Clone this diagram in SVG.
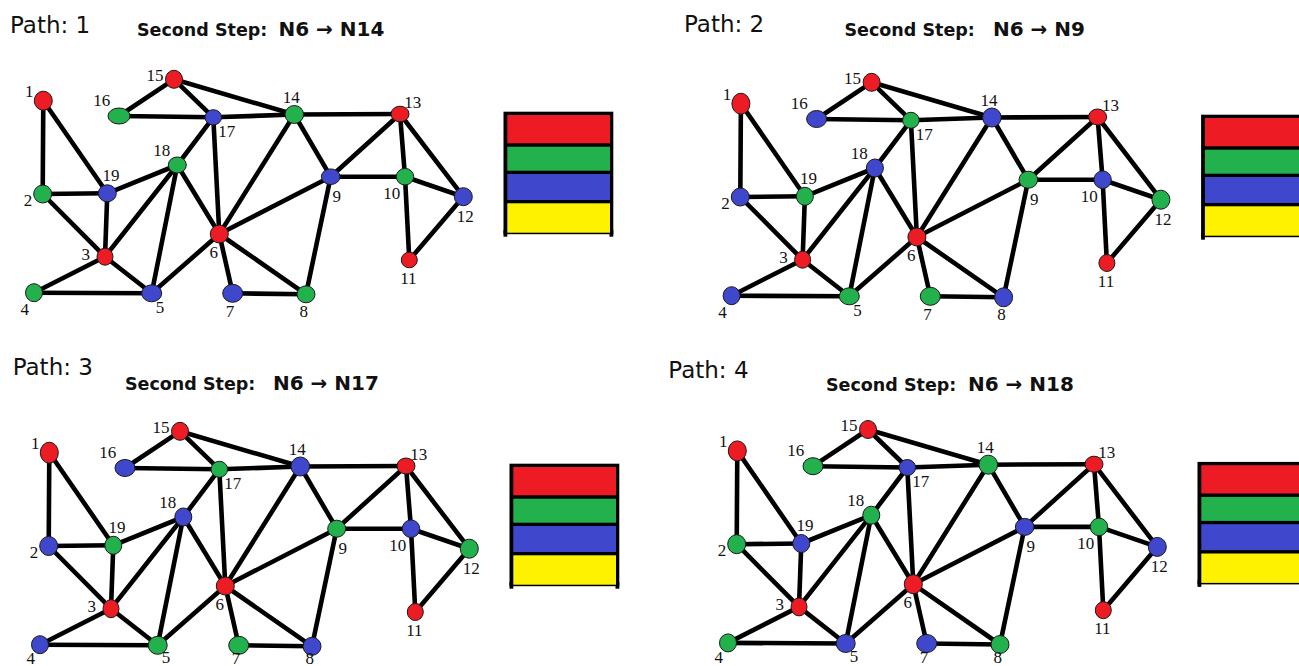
<svg xmlns="http://www.w3.org/2000/svg" width="1299" height="666" viewBox="0 0 1299 666">
  <style>
    .edge { stroke: #000; stroke-width: 4.6; stroke-linecap: round; fill: none; }
    .node { stroke: #1a1a1a; stroke-width: 1; }
    .red { fill: #ED1C24; }
    .grn { fill: #22B14C; }
    .blu { fill: #3F48CC; }
    .yel { fill: #FFF200; }
    .lbl { font-family: "Liberation Serif", "Times New Roman", serif; font-size: 17px; fill: #111; text-anchor: middle; }
    .path { font-family: "DejaVu Sans", Verdana, sans-serif; font-size: 23px; fill: #111; }
    .step { font-family: "DejaVu Sans", Verdana, sans-serif; font-weight: bold; font-size: 17.5px; fill: #111; }
    .move { font-family: "DejaVu Sans", Verdana, sans-serif; font-weight: bold; font-size: 20px; fill: #111; }
  </style>
  <defs>
    <!-- colour key shared by all four panels -->
    <g id="palette">
      <rect x="503.5" y="111.7" width="109.8" height="122.5" fill="#000"/>
      <rect x="503.5" y="230" width="3.8" height="6.7" fill="#000"/>
      <rect x="609.5" y="230" width="3.8" height="6.7" fill="#000"/>
      <rect x="507.3" y="115" width="102.7" height="28.3" class="red"/>
      <rect x="507.3" y="146.7" width="102.7" height="24" class="grn"/>
      <rect x="507.3" y="174" width="102.7" height="26" class="blu"/>
      <rect x="507.3" y="203.3" width="102.7" height="29.4" class="yel"/>
    </g>
  </defs>
  <rect width="1299" height="666" fill="#fff"/>

  <!-- titles -->
  <g id="titles">
    <text class="path" x="10" y="32.5">Path: 1</text>
    <text class="step" x="137" y="35.5">Second Step:</text>
    <text class="move" x="278.5" y="35.5">N6 → N14</text>

    <text class="path" x="684" y="32">Path: 2</text>
    <text class="step" x="844.5" y="35.5">Second Step:</text>
    <text class="move" x="993" y="35.5">N6 → N9</text>

    <text class="path" x="12.7" y="375">Path: 3</text>
    <text class="step" x="125" y="390">Second Step:</text>
    <text class="move" x="273" y="390">N6 → N17</text>

    <text class="path" x="668.3" y="378">Path: 4</text>
    <text class="step" x="826" y="390.5">Second Step:</text>
    <text class="move" x="968" y="390.5">N6 → N18</text>
  </g>

  <!-- ===== Path 1 ===== -->
  <g id="panel1">
    <use href="#palette"/>
    <g id="p1-connectors">
      <line class="edge" x1="43.3" y1="100.7" x2="42.7" y2="194"/>
      <line class="edge" x1="43.3" y1="100.7" x2="107.3" y2="193.3"/>
      <line class="edge" x1="42.7" y1="194" x2="107.3" y2="193.3"/>
      <line class="edge" x1="42.7" y1="194" x2="105" y2="256.7"/>
      <line class="edge" x1="107.3" y1="193.3" x2="105" y2="256.7"/>
      <line class="edge" x1="107.3" y1="193.3" x2="177.3" y2="165"/>
      <line class="edge" x1="105" y1="256.7" x2="34" y2="292.7"/>
      <line class="edge" x1="105" y1="256.7" x2="151.7" y2="293.3"/>
      <line class="edge" x1="105" y1="256.7" x2="177.3" y2="165"/>
      <line class="edge" x1="34" y1="292.7" x2="151.7" y2="293.3"/>
      <line class="edge" x1="151.7" y1="293.3" x2="177.3" y2="165"/>
      <line class="edge" x1="151.7" y1="293.3" x2="219.3" y2="234"/>
      <line class="edge" x1="177.3" y1="165" x2="219.3" y2="234"/>
      <line class="edge" x1="177.3" y1="165" x2="213.3" y2="117.3"/>
      <line class="edge" x1="174" y1="79.3" x2="119" y2="116"/>
      <line class="edge" x1="174" y1="79.3" x2="213.3" y2="117.3"/>
      <line class="edge" x1="174" y1="79.3" x2="294.3" y2="114.5"/>
      <line class="edge" x1="119" y1="116" x2="213.3" y2="117.3"/>
      <line class="edge" x1="213.3" y1="117.3" x2="294.3" y2="114.5"/>
      <line class="edge" x1="213.3" y1="117.3" x2="219.3" y2="234"/>
      <line class="edge" x1="294.3" y1="114.5" x2="400" y2="114"/>
      <line class="edge" x1="294.3" y1="114.5" x2="219.3" y2="234"/>
      <line class="edge" x1="294.3" y1="114.5" x2="330.7" y2="176.7"/>
      <line class="edge" x1="219.3" y1="234" x2="330.7" y2="176.7"/>
      <line class="edge" x1="219.3" y1="234" x2="232.7" y2="293.3"/>
      <line class="edge" x1="219.3" y1="234" x2="306" y2="294.3"/>
      <line class="edge" x1="232.7" y1="293.3" x2="306" y2="294.3"/>
      <line class="edge" x1="306" y1="294.3" x2="330.7" y2="176.7"/>
      <line class="edge" x1="330.7" y1="176.7" x2="400" y2="114"/>
      <line class="edge" x1="330.7" y1="176.7" x2="405" y2="176.7"/>
      <line class="edge" x1="400" y1="114" x2="405" y2="176.7"/>
      <line class="edge" x1="400" y1="114" x2="463.3" y2="196.7"/>
      <line class="edge" x1="405" y1="176.7" x2="463.3" y2="196.7"/>
      <line class="edge" x1="405" y1="176.7" x2="409.3" y2="260"/>
      <line class="edge" x1="409.3" y1="260" x2="463.3" y2="196.7"/>
    </g>
    <g id="p1-n1"><ellipse class="node red" cx="43.3" cy="100.7" rx="9" ry="9.5"/><text class="lbl" x="29.3" y="96.7">1</text></g>
    <g id="p1-n2"><ellipse class="node grn" cx="42.7" cy="194" rx="9" ry="9"/><text class="lbl" x="28" y="205.7">2</text></g>
    <g id="p1-n3"><ellipse class="node red" cx="105" cy="256.7" rx="8" ry="8.5"/><text class="lbl" x="85.8" y="260">3</text></g>
    <g id="p1-n4"><ellipse class="node grn" cx="34" cy="292.7" rx="8.5" ry="9"/><text class="lbl" x="24.8" y="315">4</text></g>
    <g id="p1-n5"><ellipse class="node blu" cx="151.7" cy="293.3" rx="10" ry="8.5"/><text class="lbl" x="160" y="312.7">5</text></g>
    <g id="p1-n6"><ellipse class="node red" cx="219.3" cy="234" rx="9" ry="9"/><text class="lbl" x="213.7" y="258.3">6</text></g>
    <g id="p1-n7"><ellipse class="node blu" cx="232.7" cy="293.3" rx="10" ry="9"/><text class="lbl" x="230" y="316.7">7</text></g>
    <g id="p1-n8"><ellipse class="node grn" cx="306" cy="294.3" rx="9" ry="8.5"/><text class="lbl" x="303.8" y="317.3">8</text></g>
    <g id="p1-n9"><ellipse class="node blu" cx="330.7" cy="176.7" rx="9.3" ry="7.8"/><text class="lbl" x="336.7" y="201.7">9</text></g>
    <g id="p1-n10"><ellipse class="node grn" cx="405" cy="176.7" rx="8.7" ry="8.3"/><text class="lbl" x="391.7" y="199.3">10</text></g>
    <g id="p1-n11"><ellipse class="node red" cx="409.3" cy="260" rx="8" ry="7.8"/><text class="lbl" x="408.4" y="284">11</text></g>
    <g id="p1-n12"><ellipse class="node blu" cx="463.3" cy="196.7" rx="9" ry="9"/><text class="lbl" x="465.3" y="222.3">12</text></g>
    <g id="p1-n13"><ellipse class="node red" cx="400" cy="114" rx="9" ry="7.8"/><text class="lbl" x="412.8" y="108.3">13</text></g>
    <g id="p1-n14"><ellipse class="node grn" cx="294.3" cy="114.5" rx="9.3" ry="9"/><text class="lbl" x="291.3" y="103.3">14</text></g>
    <g id="p1-n15"><ellipse class="node red" cx="174" cy="79.3" rx="8.5" ry="9"/><text class="lbl" x="155" y="80.6">15</text></g>
    <g id="p1-n16"><ellipse class="node grn" cx="119" cy="116" rx="11" ry="8"/><text class="lbl" x="101.7" y="106">16</text></g>
    <g id="p1-n17"><ellipse class="node blu" cx="213.3" cy="117.3" rx="8.3" ry="7.6"/><text class="lbl" x="226.7" y="137.3">17</text></g>
    <g id="p1-n18"><ellipse class="node grn" cx="177.3" cy="165" rx="9" ry="8"/><text class="lbl" x="161.7" y="155.7">18</text></g>
    <g id="p1-n19"><ellipse class="node blu" cx="107.3" cy="193.3" rx="9" ry="8.5"/><text class="lbl" x="111" y="180.7">19</text></g>
  </g>

  <!-- ===== Path 2 ===== -->
  <g id="panel2" transform="translate(697.6,3)">
    <use href="#palette"/>
    <g id="p2-connectors">
      <line class="edge" x1="43.3" y1="100.7" x2="42.7" y2="194"/>
      <line class="edge" x1="43.3" y1="100.7" x2="107.3" y2="193.3"/>
      <line class="edge" x1="42.7" y1="194" x2="107.3" y2="193.3"/>
      <line class="edge" x1="42.7" y1="194" x2="105" y2="256.7"/>
      <line class="edge" x1="107.3" y1="193.3" x2="105" y2="256.7"/>
      <line class="edge" x1="107.3" y1="193.3" x2="177.3" y2="165"/>
      <line class="edge" x1="105" y1="256.7" x2="34" y2="292.7"/>
      <line class="edge" x1="105" y1="256.7" x2="151.7" y2="293.3"/>
      <line class="edge" x1="105" y1="256.7" x2="177.3" y2="165"/>
      <line class="edge" x1="34" y1="292.7" x2="151.7" y2="293.3"/>
      <line class="edge" x1="151.7" y1="293.3" x2="177.3" y2="165"/>
      <line class="edge" x1="151.7" y1="293.3" x2="219.3" y2="234"/>
      <line class="edge" x1="177.3" y1="165" x2="219.3" y2="234"/>
      <line class="edge" x1="177.3" y1="165" x2="213.3" y2="117.3"/>
      <line class="edge" x1="174" y1="79.3" x2="119" y2="116"/>
      <line class="edge" x1="174" y1="79.3" x2="213.3" y2="117.3"/>
      <line class="edge" x1="174" y1="79.3" x2="294.3" y2="114.5"/>
      <line class="edge" x1="119" y1="116" x2="213.3" y2="117.3"/>
      <line class="edge" x1="213.3" y1="117.3" x2="294.3" y2="114.5"/>
      <line class="edge" x1="213.3" y1="117.3" x2="219.3" y2="234"/>
      <line class="edge" x1="294.3" y1="114.5" x2="400" y2="114"/>
      <line class="edge" x1="294.3" y1="114.5" x2="219.3" y2="234"/>
      <line class="edge" x1="294.3" y1="114.5" x2="330.7" y2="176.7"/>
      <line class="edge" x1="219.3" y1="234" x2="330.7" y2="176.7"/>
      <line class="edge" x1="219.3" y1="234" x2="232.7" y2="293.3"/>
      <line class="edge" x1="219.3" y1="234" x2="306" y2="294.3"/>
      <line class="edge" x1="232.7" y1="293.3" x2="306" y2="294.3"/>
      <line class="edge" x1="306" y1="294.3" x2="330.7" y2="176.7"/>
      <line class="edge" x1="330.7" y1="176.7" x2="400" y2="114"/>
      <line class="edge" x1="330.7" y1="176.7" x2="405" y2="176.7"/>
      <line class="edge" x1="400" y1="114" x2="405" y2="176.7"/>
      <line class="edge" x1="400" y1="114" x2="463.3" y2="196.7"/>
      <line class="edge" x1="405" y1="176.7" x2="463.3" y2="196.7"/>
      <line class="edge" x1="405" y1="176.7" x2="409.3" y2="260"/>
      <line class="edge" x1="409.3" y1="260" x2="463.3" y2="196.7"/>
    </g>
    <g id="p2-n1"><ellipse class="node red" cx="43.3" cy="100.7" rx="9" ry="10.5"/><text class="lbl" x="29.3" y="96.7">1</text></g>
    <g id="p2-n2"><ellipse class="node blu" cx="42.7" cy="194" rx="9" ry="9"/><text class="lbl" x="28" y="205.7">2</text></g>
    <g id="p2-n3"><ellipse class="node red" cx="105" cy="256.7" rx="8" ry="8.5"/><text class="lbl" x="85.8" y="260">3</text></g>
    <g id="p2-n4"><ellipse class="node blu" cx="34" cy="292.7" rx="8.5" ry="9"/><text class="lbl" x="24.8" y="315">4</text></g>
    <g id="p2-n5"><ellipse class="node grn" cx="151.7" cy="293.3" rx="10" ry="8.5"/><text class="lbl" x="160" y="312.7">5</text></g>
    <g id="p2-n6"><ellipse class="node red" cx="219.3" cy="234" rx="9" ry="9"/><text class="lbl" x="213.7" y="258.3">6</text></g>
    <g id="p2-n7"><ellipse class="node grn" cx="232.7" cy="293.3" rx="10" ry="9"/><text class="lbl" x="230" y="316.7">7</text></g>
    <g id="p2-n8"><ellipse class="node blu" cx="306" cy="294.3" rx="9" ry="9.5"/><text class="lbl" x="303.8" y="317.3">8</text></g>
    <g id="p2-n9"><ellipse class="node grn" cx="330.7" cy="176.7" rx="9.3" ry="8.5"/><text class="lbl" x="336.7" y="201.7">9</text></g>
    <g id="p2-n10"><ellipse class="node blu" cx="405" cy="176.7" rx="8.7" ry="8.8"/><text class="lbl" x="391.7" y="199.3">10</text></g>
    <g id="p2-n11"><ellipse class="node red" cx="409.3" cy="260" rx="8" ry="8.5"/><text class="lbl" x="408.4" y="284">11</text></g>
    <g id="p2-n12"><ellipse class="node grn" cx="463.3" cy="196.7" rx="9" ry="9.5"/><text class="lbl" x="465.3" y="222.3">12</text></g>
    <g id="p2-n13"><ellipse class="node red" cx="400" cy="114" rx="9" ry="8"/><text class="lbl" x="412.8" y="108.3">13</text></g>
    <g id="p2-n14"><ellipse class="node blu" cx="294.3" cy="114.5" rx="9.3" ry="9.5"/><text class="lbl" x="291.3" y="103.3">14</text></g>
    <g id="p2-n15"><ellipse class="node red" cx="174" cy="79.3" rx="8.5" ry="9"/><text class="lbl" x="155" y="80.6">15</text></g>
    <g id="p2-n16"><ellipse class="node blu" cx="119" cy="116" rx="10" ry="8.5"/><text class="lbl" x="101.7" y="106">16</text></g>
    <g id="p2-n17"><ellipse class="node grn" cx="213.3" cy="117.3" rx="8.3" ry="8"/><text class="lbl" x="226.7" y="137.3">17</text></g>
    <g id="p2-n18"><ellipse class="node blu" cx="177.3" cy="165" rx="8.5" ry="9"/><text class="lbl" x="161.7" y="155.7">18</text></g>
    <g id="p2-n19"><ellipse class="node grn" cx="107.3" cy="193.3" rx="8.5" ry="9"/><text class="lbl" x="111" y="180.7">19</text></g>
  </g>

  <!-- ===== Path 3 ===== -->
  <g id="panel3" transform="translate(6,352)">
    <use href="#palette"/>
    <g id="p3-connectors">
      <line class="edge" x1="43.3" y1="100.7" x2="42.7" y2="194"/>
      <line class="edge" x1="43.3" y1="100.7" x2="107.3" y2="193.3"/>
      <line class="edge" x1="42.7" y1="194" x2="107.3" y2="193.3"/>
      <line class="edge" x1="42.7" y1="194" x2="105" y2="256.7"/>
      <line class="edge" x1="107.3" y1="193.3" x2="105" y2="256.7"/>
      <line class="edge" x1="107.3" y1="193.3" x2="177.3" y2="165"/>
      <line class="edge" x1="105" y1="256.7" x2="34" y2="292.7"/>
      <line class="edge" x1="105" y1="256.7" x2="151.7" y2="293.3"/>
      <line class="edge" x1="105" y1="256.7" x2="177.3" y2="165"/>
      <line class="edge" x1="34" y1="292.7" x2="151.7" y2="293.3"/>
      <line class="edge" x1="151.7" y1="293.3" x2="177.3" y2="165"/>
      <line class="edge" x1="151.7" y1="293.3" x2="219.3" y2="234"/>
      <line class="edge" x1="177.3" y1="165" x2="219.3" y2="234"/>
      <line class="edge" x1="177.3" y1="165" x2="213.3" y2="117.3"/>
      <line class="edge" x1="174" y1="79.3" x2="119" y2="116"/>
      <line class="edge" x1="174" y1="79.3" x2="213.3" y2="117.3"/>
      <line class="edge" x1="174" y1="79.3" x2="294.3" y2="114.5"/>
      <line class="edge" x1="119" y1="116" x2="213.3" y2="117.3"/>
      <line class="edge" x1="213.3" y1="117.3" x2="294.3" y2="114.5"/>
      <line class="edge" x1="213.3" y1="117.3" x2="219.3" y2="234"/>
      <line class="edge" x1="294.3" y1="114.5" x2="400" y2="114"/>
      <line class="edge" x1="294.3" y1="114.5" x2="219.3" y2="234"/>
      <line class="edge" x1="294.3" y1="114.5" x2="330.7" y2="176.7"/>
      <line class="edge" x1="219.3" y1="234" x2="330.7" y2="176.7"/>
      <line class="edge" x1="219.3" y1="234" x2="232.7" y2="293.3"/>
      <line class="edge" x1="219.3" y1="234" x2="306" y2="294.3"/>
      <line class="edge" x1="232.7" y1="293.3" x2="306" y2="294.3"/>
      <line class="edge" x1="306" y1="294.3" x2="330.7" y2="176.7"/>
      <line class="edge" x1="330.7" y1="176.7" x2="400" y2="114"/>
      <line class="edge" x1="330.7" y1="176.7" x2="405" y2="176.7"/>
      <line class="edge" x1="400" y1="114" x2="405" y2="176.7"/>
      <line class="edge" x1="400" y1="114" x2="463.3" y2="196.7"/>
      <line class="edge" x1="405" y1="176.7" x2="463.3" y2="196.7"/>
      <line class="edge" x1="405" y1="176.7" x2="409.3" y2="260"/>
      <line class="edge" x1="409.3" y1="260" x2="463.3" y2="196.7"/>
    </g>
    <g id="p3-n1"><ellipse class="node red" cx="43.3" cy="100.7" rx="9" ry="10.5"/><text class="lbl" x="29.3" y="96.7">1</text></g>
    <g id="p3-n2"><ellipse class="node blu" cx="42.7" cy="194" rx="9" ry="9.5"/><text class="lbl" x="28" y="205.7">2</text></g>
    <g id="p3-n3"><ellipse class="node red" cx="105" cy="256.7" rx="8" ry="9"/><text class="lbl" x="85.8" y="260">3</text></g>
    <g id="p3-n4"><ellipse class="node blu" cx="34" cy="292.7" rx="8.5" ry="9"/><text class="lbl" x="24.8" y="311.5">4</text></g>
    <g id="p3-n5"><ellipse class="node grn" cx="151.7" cy="293.3" rx="9.5" ry="9"/><text class="lbl" x="160" y="311">5</text></g>
    <g id="p3-n6"><ellipse class="node red" cx="219.3" cy="234" rx="9" ry="9"/><text class="lbl" x="213.7" y="258.3">6</text></g>
    <g id="p3-n7"><ellipse class="node grn" cx="232.7" cy="293.3" rx="10" ry="9"/><text class="lbl" x="230" y="311.5">7</text></g>
    <g id="p3-n8"><ellipse class="node blu" cx="306" cy="294.3" rx="9" ry="9"/><text class="lbl" x="303.8" y="311.5">8</text></g>
    <g id="p3-n9"><ellipse class="node grn" cx="330.7" cy="176.7" rx="9" ry="8.5"/><text class="lbl" x="336.7" y="201.7">9</text></g>
    <g id="p3-n10"><ellipse class="node blu" cx="405" cy="176.7" rx="8.7" ry="8.8"/><text class="lbl" x="391.7" y="199.3">10</text></g>
    <g id="p3-n11"><ellipse class="node red" cx="409.3" cy="260" rx="8" ry="8.5"/><text class="lbl" x="408.4" y="284">11</text></g>
    <g id="p3-n12"><ellipse class="node grn" cx="463.3" cy="196.7" rx="9" ry="9.5"/><text class="lbl" x="465.3" y="222.3">12</text></g>
    <g id="p3-n13"><ellipse class="node red" cx="400" cy="114" rx="9" ry="8"/><text class="lbl" x="412.8" y="108.3">13</text></g>
    <g id="p3-n14"><ellipse class="node blu" cx="294.3" cy="114.5" rx="9.3" ry="9.5"/><text class="lbl" x="291.3" y="103.3">14</text></g>
    <g id="p3-n15"><ellipse class="node red" cx="174" cy="79.3" rx="8.5" ry="9"/><text class="lbl" x="155" y="80.6">15</text></g>
    <g id="p3-n16"><ellipse class="node blu" cx="119" cy="116" rx="10" ry="8.5"/><text class="lbl" x="101.7" y="106">16</text></g>
    <g id="p3-n17"><ellipse class="node grn" cx="213.3" cy="117.3" rx="8.3" ry="8"/><text class="lbl" x="226.7" y="137.3">17</text></g>
    <g id="p3-n18"><ellipse class="node blu" cx="177.3" cy="165" rx="8.5" ry="9"/><text class="lbl" x="161.7" y="155.7">18</text></g>
    <g id="p3-n19"><ellipse class="node grn" cx="107.3" cy="193.3" rx="8.5" ry="9"/><text class="lbl" x="111" y="180.7">19</text></g>
  </g>

  <!-- ===== Path 4 ===== -->
  <g id="panel4" transform="translate(694,350.2)">
    <use href="#palette"/>
    <g id="p4-connectors">
      <line class="edge" x1="43.3" y1="100.7" x2="42.7" y2="194"/>
      <line class="edge" x1="43.3" y1="100.7" x2="107.3" y2="193.3"/>
      <line class="edge" x1="42.7" y1="194" x2="107.3" y2="193.3"/>
      <line class="edge" x1="42.7" y1="194" x2="105" y2="256.7"/>
      <line class="edge" x1="107.3" y1="193.3" x2="105" y2="256.7"/>
      <line class="edge" x1="107.3" y1="193.3" x2="177.3" y2="165"/>
      <line class="edge" x1="105" y1="256.7" x2="34" y2="292.7"/>
      <line class="edge" x1="105" y1="256.7" x2="151.7" y2="293.3"/>
      <line class="edge" x1="105" y1="256.7" x2="177.3" y2="165"/>
      <line class="edge" x1="34" y1="292.7" x2="151.7" y2="293.3"/>
      <line class="edge" x1="151.7" y1="293.3" x2="177.3" y2="165"/>
      <line class="edge" x1="151.7" y1="293.3" x2="219.3" y2="234"/>
      <line class="edge" x1="177.3" y1="165" x2="219.3" y2="234"/>
      <line class="edge" x1="177.3" y1="165" x2="213.3" y2="117.3"/>
      <line class="edge" x1="174" y1="79.3" x2="119" y2="116"/>
      <line class="edge" x1="174" y1="79.3" x2="213.3" y2="117.3"/>
      <line class="edge" x1="174" y1="79.3" x2="294.3" y2="114.5"/>
      <line class="edge" x1="119" y1="116" x2="213.3" y2="117.3"/>
      <line class="edge" x1="213.3" y1="117.3" x2="294.3" y2="114.5"/>
      <line class="edge" x1="213.3" y1="117.3" x2="219.3" y2="234"/>
      <line class="edge" x1="294.3" y1="114.5" x2="400" y2="114"/>
      <line class="edge" x1="294.3" y1="114.5" x2="219.3" y2="234"/>
      <line class="edge" x1="294.3" y1="114.5" x2="330.7" y2="176.7"/>
      <line class="edge" x1="219.3" y1="234" x2="330.7" y2="176.7"/>
      <line class="edge" x1="219.3" y1="234" x2="232.7" y2="293.3"/>
      <line class="edge" x1="219.3" y1="234" x2="306" y2="294.3"/>
      <line class="edge" x1="232.7" y1="293.3" x2="306" y2="294.3"/>
      <line class="edge" x1="306" y1="294.3" x2="330.7" y2="176.7"/>
      <line class="edge" x1="330.7" y1="176.7" x2="400" y2="114"/>
      <line class="edge" x1="330.7" y1="176.7" x2="405" y2="176.7"/>
      <line class="edge" x1="400" y1="114" x2="405" y2="176.7"/>
      <line class="edge" x1="400" y1="114" x2="463.3" y2="196.7"/>
      <line class="edge" x1="405" y1="176.7" x2="463.3" y2="196.7"/>
      <line class="edge" x1="405" y1="176.7" x2="409.3" y2="260"/>
      <line class="edge" x1="409.3" y1="260" x2="463.3" y2="196.7"/>
    </g>
    <g id="p4-n1"><ellipse class="node red" cx="43.3" cy="100.7" rx="9" ry="10"/><text class="lbl" x="29.3" y="96.7">1</text></g>
    <g id="p4-n2"><ellipse class="node grn" cx="42.7" cy="194" rx="9" ry="9.5"/><text class="lbl" x="28" y="205.7">2</text></g>
    <g id="p4-n3"><ellipse class="node red" cx="105" cy="256.7" rx="8" ry="9"/><text class="lbl" x="85.8" y="260">3</text></g>
    <g id="p4-n4"><ellipse class="node grn" cx="34" cy="292.7" rx="8.5" ry="9"/><text class="lbl" x="24.8" y="312.5">4</text></g>
    <g id="p4-n5"><ellipse class="node blu" cx="151.7" cy="293.3" rx="9.5" ry="9"/><text class="lbl" x="160" y="312">5</text></g>
    <g id="p4-n6"><ellipse class="node red" cx="219.3" cy="234" rx="9" ry="9.5"/><text class="lbl" x="213.7" y="258.3">6</text></g>
    <g id="p4-n7"><ellipse class="node blu" cx="232.7" cy="293.3" rx="10" ry="9"/><text class="lbl" x="230" y="312.5">7</text></g>
    <g id="p4-n8"><ellipse class="node grn" cx="306" cy="294.3" rx="9" ry="9"/><text class="lbl" x="303.8" y="312.5">8</text></g>
    <g id="p4-n9"><ellipse class="node blu" cx="330.7" cy="176.7" rx="9.3" ry="8.5"/><text class="lbl" x="336.7" y="201.7">9</text></g>
    <g id="p4-n10"><ellipse class="node grn" cx="405" cy="176.7" rx="8.7" ry="8.8"/><text class="lbl" x="391.7" y="199.3">10</text></g>
    <g id="p4-n11"><ellipse class="node red" cx="409.3" cy="260" rx="8" ry="8.5"/><text class="lbl" x="408.4" y="284">11</text></g>
    <g id="p4-n12"><ellipse class="node blu" cx="463.3" cy="196.7" rx="9" ry="9.5"/><text class="lbl" x="465.3" y="222.3">12</text></g>
    <g id="p4-n13"><ellipse class="node red" cx="400" cy="114" rx="9" ry="8"/><text class="lbl" x="412.8" y="108.3">13</text></g>
    <g id="p4-n14"><ellipse class="node grn" cx="294.3" cy="114.5" rx="9.3" ry="9.5"/><text class="lbl" x="291.3" y="103.3">14</text></g>
    <g id="p4-n15"><ellipse class="node red" cx="174" cy="79.3" rx="8.5" ry="9"/><text class="lbl" x="155" y="80.6">15</text></g>
    <g id="p4-n16"><ellipse class="node grn" cx="119" cy="116" rx="10" ry="8.5"/><text class="lbl" x="101.7" y="106">16</text></g>
    <g id="p4-n17"><ellipse class="node blu" cx="213.3" cy="117.3" rx="8.3" ry="8"/><text class="lbl" x="226.7" y="137.3">17</text></g>
    <g id="p4-n18"><ellipse class="node grn" cx="177.3" cy="165" rx="8.5" ry="9"/><text class="lbl" x="161.7" y="155.7">18</text></g>
    <g id="p4-n19"><ellipse class="node blu" cx="107.3" cy="193.3" rx="8.5" ry="9"/><text class="lbl" x="111" y="180.7">19</text></g>
  </g>
</svg>
